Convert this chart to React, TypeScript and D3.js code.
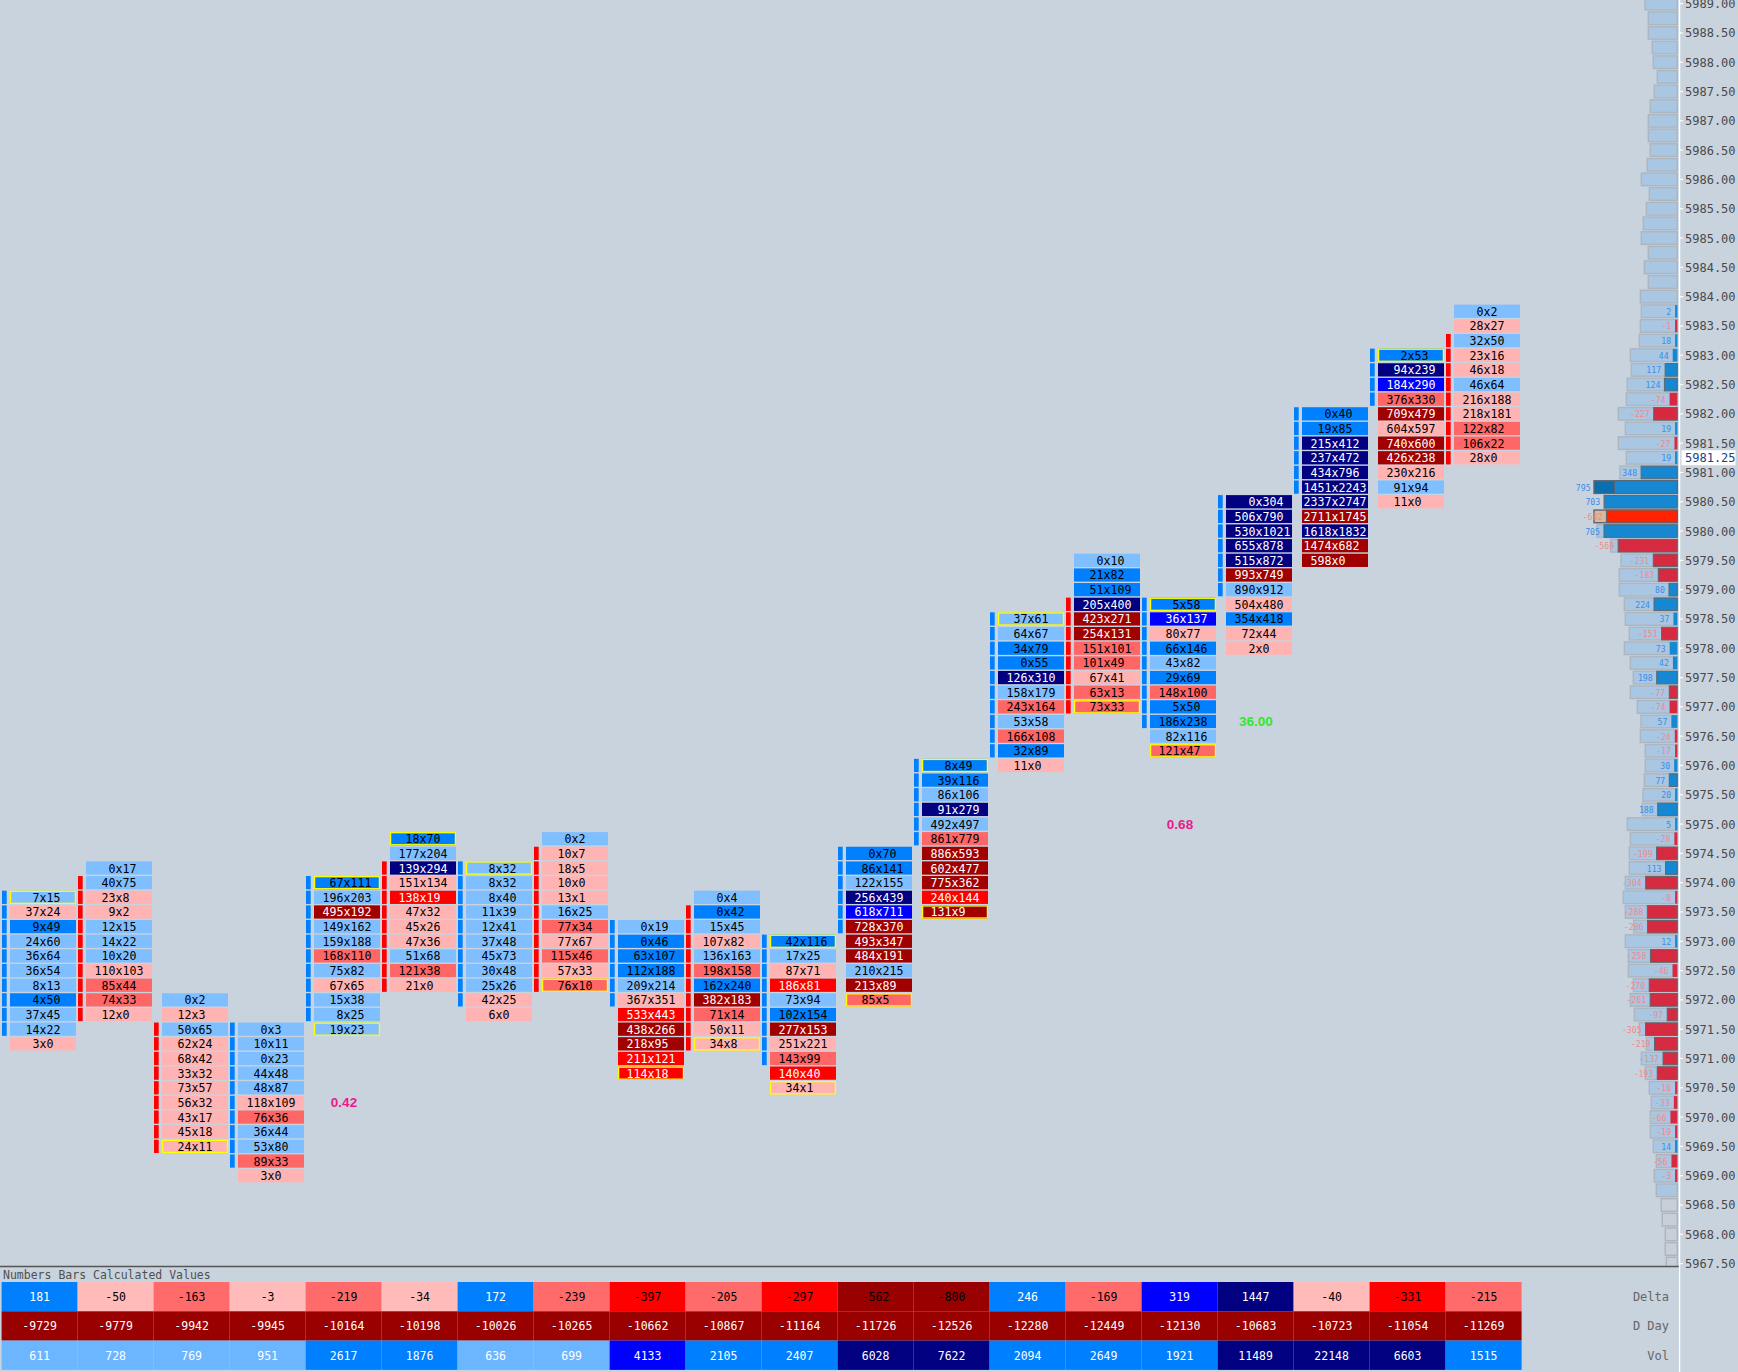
import React from 'react';
import * as d3 from 'd3';

const W = 1738;
const H = 1372;
const BG = '#c9d3dd';
const MONO = "'DejaVu Sans Mono', monospace";

// ---------- footprint columns (bid x ask), top row price, 0.25 tick ----------
const colTop = [5973.75, 5974.25, 5972.0, 5971.5, 5974.0, 5974.75, 5974.25, 5974.75, 5973.25, 5973.75,
  5973.0, 5974.5, 5976.0, 5978.5, 5979.5, 5978.75, 5980.5, 5982.0, 5983.0, 5983.75];

const colCells = [
  ['7x15', '37x24', '9x49', '24x60', '36x64', '36x54', '8x13', '4x50', '37x45', '14x22', '3x0'],
  ['0x17', '40x75', '23x8', '9x2', '12x15', '14x22', '10x20', '110x103', '85x44', '74x33', '12x0'],
  ['0x2', '12x3', '50x65', '62x24', '68x42', '33x32', '73x57', '56x32', '43x17', '45x18', '24x11'],
  ['0x3', '10x11', '0x23', '44x48', '48x87', '118x109', '76x36', '36x44', '53x80', '89x33', '3x0'],
  ['67x111', '196x203', '495x192', '149x162', '159x188', '168x110', '75x82', '67x65', '15x38', '8x25', '19x23'],
  ['18x70', '177x204', '139x294', '151x134', '138x19', '47x32', '45x26', '47x36', '51x68', '121x38', '21x0'],
  ['8x32', '8x32', '8x40', '11x39', '12x41', '37x48', '45x73', '30x48', '25x26', '42x25', '6x0'],
  ['0x2', '10x7', '18x5', '10x0', '13x1', '16x25', '77x34', '77x67', '115x46', '57x33', '76x10'],
  ['0x19', '0x46', '63x107', '112x188', '209x214', '367x351', '533x443', '438x266', '218x95', '211x121', '114x18'],
  ['0x4', '0x42', '15x45', '107x82', '136x163', '198x158', '162x240', '382x183', '71x14', '50x11', '34x8'],
  ['42x116', '17x25', '87x71', '186x81', '73x94', '102x154', '277x153', '251x221', '143x99', '140x40', '34x1'],
  ['0x70', '86x141', '122x155', '256x439', '618x711', '728x370', '493x347', '484x191', '210x215', '213x89', '85x5'],
  ['8x49', '39x116', '86x106', '91x279', '492x497', '861x779', '886x593', '602x477', '775x362', '240x144', '131x9'],
  ['37x61', '64x67', '34x79', '0x55', '126x310', '158x179', '243x164', '53x58', '166x108', '32x89', '11x0'],
  ['0x10', '21x82', '51x109', '205x400', '423x271', '254x131', '151x101', '101x49', '67x41', '63x13', '73x33'],
  ['5x58', '36x137', '80x77', '66x146', '43x82', '29x69', '148x100', '5x50', '186x238', '82x116', '121x47'],
  ['0x304', '506x790', '530x1021', '655x878', '515x872', '993x749', '890x912', '504x480', '354x418', '72x44', '2x0'],
  ['0x40', '19x85', '215x412', '237x472', '434x796', '1451x2243', '2337x2747', '2711x1745', '1618x1832', '1474x682', '598x0'],
  ['2x53', '94x239', '184x290', '376x330', '709x479', '604x597', '740x600', '426x238', '230x216', '91x94', '11x0'],
  ['0x2', '28x27', '32x50', '23x16', '46x18', '46x64', '216x188', '218x181', '122x82', '106x22', '28x0'],
];

// shade codes: a light blue, b blue, n navy, u pure blue, p light red, s salmon, r red, d dark red
const colShade = [
  'a p b a a a a b a a p',
  'a a p p a a a p s s p',
  'a p a p p p p p p p p',
  'a a a a a p s a a s p',
  'b a d a a s a p a a a',
  'b a n p r p p p a s p',
  'a a a a a a a a a p p',
  'a p p p p a s p s p s',
  'a b b b a p r d d r r',
  'a b a p a s b d s p p',
  'b a p r a b d p s r p',
  'b b a n u d d d a d s',
  'b b a n a s d d d r d',
  'a a b b n a s a s b p',
  'a b b n d d s s p s s',
  'b u p b a b s b b a s',
  'n n n n n d a p b p p',
  'b b n n n n n d n d d',
  'b n u s d p d d p a p',
  'a p a p p a p p s s p',
];

const candleFrom = [0, 1, 2, 0, 0, 2, 0, 1, 0, 1, 0, 0, 0, 0, 3, 0, 0, 0, 0, 2];
const candleTo = [9, 10, 10, 9, 9, 10, 9, 10, 5, 10, 8, 5, 5, 9, 10, 8, 6, 5, 3, 10];
const candleUp = [true, false, false, true, true, false, true, false, true, false, true, true, true, true, false, true, true, true, true, false];
const colYellow = [[0], [], [10], [], [0, 10], [0], [0], [10], [10], [10], [0, 10], [10], [0, 10], [0], [10], [0, 10], [], [], [0], []];

const annotations = [
  { col: 4, price: 5970.25, text: '0.42', color: '#ea1a8c' },
  { col: 15, price: 5975.0, text: '0.68', color: '#ea1a8c' },
  { col: 16, price: 5976.75, text: '36.00', color: '#2ee82e' },
];

// ---------- bottom table ----------
const tableDelta = [181, -50, -163, -3, -219, -34, 172, -239, -397, -205, -297, -562, -800, 246, -169, 319, 1447, -40, -331, -215];
const tableDDay = [-9729, -9779, -9942, -9945, -10164, -10198, -10026, -10265, -10662, -10867, -11164, -11726, -12526, -12280, -12449, -12130, -10683, -10723, -11054, -11269];
const tableVol = [611, 728, 769, 951, 2617, 1876, 636, 699, 4133, 2105, 2407, 6028, 7622, 2094, 2649, 1921, 11489, 22148, 6603, 1515];
const tableLabels = ['Delta', 'D Day', 'Vol'];

// ---------- session profile (top 5989.00, step 0.25) ----------
const profileTop = 5989.0;
const profileVolume = [
  1940, 1740, 1740, 1500, 1440, 1200, 1380, 1620, 1740, 1740, 1620, 1800, 2160, 1680, 1860, 2040, 2160, 1740, 1980, 1740, 2220, // 5989.00 .. 5984.00
  2160, 2220, 2280, 2820, 2760, 3000, 3060, 3540, 3120, 3540, 3060, 3440, // 5983.75 .. 5981.00
  5000, 4400, 5000, 4820, 4000, 3380, 3480, 3480, 3180, 3120, 2880, 3180, // 5980.75 .. 5978.00
  2820, 2640, 2820, 2400, 2180, 2220, 1920, 1920, 1980, 2060, 2100, 3000, // 5977.75 .. 5975.00
  2820, 2880, 2880, 3120, 3240, 3120, 2620, 3120, 2940, 2940, 2640, 2820, // 5974.75 .. 5972.00
  2580, 2280, 1860, 2160, 1920, 1680, 1560, 1620, 1620, 1440, 1260, 1380, // 5971.75 .. 5969.00
  1260, 960, 900, 720, 720, 660, // 5968.75 .. 5967.50
];
const profileDeltaTop = 5983.75;
const profileDelta = [
  2, -1, 18, 44, 117, 124, -74, -227, 19, -27, 19, 348, // 5983.75 .. 5981.00
  795, 703, -682, 705, -569, -231, -183, 80, 224, 37, -151, 73, // 5980.75 .. 5978.00
  42, 198, -77, -74, 57, -24, -17, 30, 77, 20, 188, 5, // 5977.75 .. 5975.00
  -28, -199, 113, -304, -8, -288, -286, 12, -258, -46, -270, -261, // 5974.75 .. 5972.00
  -97, -305, -219, -137, -193, -10, -33, -66, -19, 14, -56, -3, // 5971.75 .. 5969.00
];
const greyBelow = 5968.5;
const pocPrice = 5980.75;
const tanPrice = 5980.25;
const lastPrice = 5981.25;

const SHADE: Record<string, string> = {
  a: '#80bfff', b: '#0080ff', n: '#000080', u: '#0000ff',
  p: '#ffb3b3', s: '#ff6666', r: '#ff0000', d: '#a00000',
};
const WHITE_TEXT = new Set(['n', 'u', 'r', 'd']);

function deltaColor(v: number) {
  const a = Math.abs(v);
  if (v >= 0) return a < 100 ? '#80bfff' : a < 250 ? '#0080ff' : a < 500 ? '#0000ff' : '#000080';
  return a < 100 ? '#ffbaba' : a < 250 ? '#ff6b6b' : a < 500 ? '#ff0000' : '#990000';
}
function volColor(v: number) {
  return v < 1000 ? '#6cb6ff' : v < 3000 ? '#0080ff' : v < 5000 ? '#0000ff' : '#000080';
}

export default function App() {
  const y = d3.scaleLinear().domain([5989, 5967.5]).range([3.6, 1263.6]);
  const rowH = y(5988.75) - y(5989);
  const xCol = d3.scaleBand<number>().domain(d3.range(20)).range([2, 2 + 76 * 20]);
  const fs = 11.6;
  const charW = 0.602 * fs;
  const profRight = 1677.3;
  const volW = d3.scaleLinear().domain([0, 5000]).range([0, 83.3]);
  const deltaW = d3.scaleLinear().domain([0, 1000]).range([0, 104]);
  const axisX = 1679.5;
  const priceTicks = d3.range(0, 44).map((k) => 5989 - k * 0.5);
  const tableTop = 1282;
  const tableRowH = 29.3;
  const maxNeg = d3.min(profileDelta) as number;

  const cells: React.ReactNode[] = [];
  colCells.forEach((list, ci) => {
    const shades = colShade[ci].split(' ');
    const x0 = xCol(ci) as number;
    list.forEach((txt, ri) => {
      const p = colTop[ci] - ri * 0.25;
      const cy = y(p);
      const sh = shades[ri];
      const cx = x0 + 8 + 33;
      const bid = txt.split('x')[0];
      cells.push(
        <g key={`c${ci}-${ri}`}>
          {ri >= candleFrom[ci] && ri <= candleTo[ci] && (
            <rect x={x0} y={cy - rowH / 2 + 0.7} width={4.7} height={rowH - 1.4} fill={candleUp[ci] ? '#0080ff' : '#ff0000'} />
          )}
          <rect x={x0 + 8} y={cy - rowH / 2 + 0.7} width={66} height={rowH - 1.4} fill={SHADE[sh]} />
          {colYellow[ci].includes(ri) && (
            <rect x={x0 + 8.6} y={cy - rowH / 2 + 1.3} width={64.8} height={rowH - 2.6} fill="none" stroke="#ffff00" strokeWidth={1.3} />
          )}
          <text x={cx - (bid.length + 0.5) * charW} y={cy + 0.5} fontFamily={MONO} fontSize={fs}
            dominantBaseline="central" fill={WHITE_TEXT.has(sh) ? '#ffffff' : '#000000'}>{txt}</text>
        </g>
      );
    });
  });

  const profile = profileVolume.map((v, k) => {
    const p = profileTop - k * 0.25;
    const cy = y(p);
    const w = volW(v);
    const grey = p <= greyBelow;
    let fill = grey ? '#c7cfd7' : '#a9c6e3';
    if (p === pocPrice) fill = '#0b6eae';
    if (p === tanPrice) fill = '#dbb99b';
    const di = Math.round((profileDeltaTop - p) / 0.25);
    const d = di >= 0 && di < profileDelta.length ? profileDelta[di] : null;
    let deltaEl = null;
    if (d !== null) {
      const dw = Math.max(2.2, deltaW(Math.abs(d)));
      const col = d >= 0 ? '#1688d2' : d === maxNeg ? '#ff2200' : '#d52a40';
      // POC row: delta bar starts a little inside the total bar, leaving its darker start visible
      const dwDraw = p === pocPrice ? dw * 0.76 : dw;
      deltaEl = (
        <g>
          <rect x={profRight - dwDraw} y={cy - rowH / 2 + 1} width={dwDraw} height={rowH - 2} fill={col}
            stroke={dw > 8 ? '#5d6670' : 'none'} strokeWidth={1} />
          <text x={profRight - dw - 4} y={cy + 0.5} textAnchor="end" dominantBaseline="central"
            fontFamily={MONO} fontSize={8.2} fill={d >= 0 ? '#3a8ee8' : '#ef8a8a'}>{d}</text>
        </g>
      );
    }
    return (
      <g key={`pf${k}`}>
        <rect x={profRight - w} y={cy - rowH / 2 + 1} width={w} height={rowH - 2} fill={fill}
          stroke={p === pocPrice || p === tanPrice ? '#5d6670' : grey ? '#adb4bb' : '#adb6bf'} strokeWidth={1.4} />
        {deltaEl}
      </g>
    );
  });

  const tableRows = [tableDelta, tableDDay, tableVol];

  return (
    <div style={{ position: 'absolute', left: 0, top: 0, width: W, height: H }}>
      <svg width={W} height={H} style={{ display: 'block' }}>
        <rect x={0} y={0} width={W} height={H} fill={BG} />
        {profile}
        {cells}
        {annotations.map((a, i) => (
          <text key={`an${i}`} x={(xCol(a.col) as number) + 38} y={y(a.price)} textAnchor="middle" dominantBaseline="central"
            fontFamily="'Liberation Sans', Arial, sans-serif" fontSize={13.5} fontWeight="bold" fill={a.color}>{a.text}</text>
        ))}

        {/* price axis */}
        <line x1={axisX} x2={axisX} y1={0} y2={H} stroke="#ffffff" strokeWidth={1.5} />
        {priceTicks.map((p) => (
          <g key={`pt${p}`}>
            <line x1={axisX} x2={axisX + 3.5} y1={y(p)} y2={y(p)} stroke="#ffffff" strokeWidth={1.2} />
            <text x={1685} y={y(p) + 0.5} dominantBaseline="central" fontFamily={MONO} fontSize={12} fill="#4a4a4a">{p.toFixed(2)}</text>
          </g>
        ))}
        <rect x={1681.5} y={y(lastPrice) - 7.5} width={54} height={15} fill="#ffffff" />
        <text x={1685} y={y(lastPrice) + 0.5} dominantBaseline="central" fontFamily={MONO} fontSize={12} fill="#14448c">{lastPrice.toFixed(2)}</text>

        {/* bottom panel */}
        <rect x={0} y={1267} width={axisX - 0.75} height={H - 1267} fill={BG} />
        <line x1={0} x2={axisX - 0.75} y1={1266.5} y2={1266.5} stroke="#555555" strokeWidth={1.5} />
        <text x={3} y={1279} fontFamily={MONO} fontSize={11.5} fill="#505050">Numbers Bars Calculated Values</text>
        {tableRows.map((row, r) => (
          <g key={`tr${r}`}>
            {row.map((v, i) => {
              const fill = r === 0 ? deltaColor(v) : r === 1 ? '#990000' : volColor(v);
              const txtFill = r === 0 ? (v >= 0 ? '#ffffff' : '#000000') : '#ffffff';
              const x0 = xCol(i) as number;
              const y0 = tableTop + r * tableRowH;
              return (
                <g key={`tc${r}-${i}`}>
                  <rect x={x0 - 0.4} y={y0} width={76} height={tableRowH} fill={fill} />
                  <text x={x0 + 37.6} y={y0 + tableRowH / 2 + 0.5} textAnchor="middle" dominantBaseline="central"
                    fontFamily={MONO} fontSize={11.5} fill={txtFill}>{v}</text>
                </g>
              );
            })}
            <text x={1669} y={tableTop + r * tableRowH + tableRowH / 2 + 0.5} textAnchor="end" dominantBaseline="central"
              fontFamily={MONO} fontSize={12} fill="#666666">{tableLabels[r]}</text>
          </g>
        ))}
      </svg>
    </div>
  );
}
